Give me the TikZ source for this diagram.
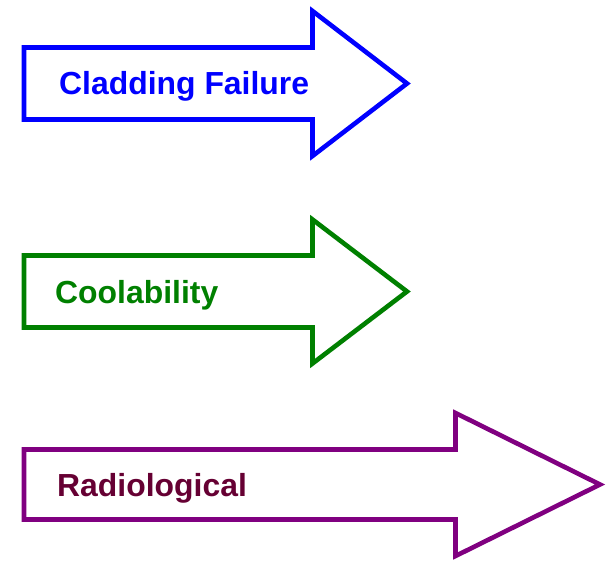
\documentclass[tikz,border=0pt]{standalone}
\usepackage{fontspec}
\setmainfont{Liberation Sans}
\definecolor{cblue}{HTML}{0000FF}
\definecolor{cgreen}{HTML}{008000}
\definecolor{cpurple}{HTML}{800080}
\definecolor{cmaroon}{HTML}{660033}
\tikzset{
  arrowshape/.style={line width=4.6pt, line join=miter, fill=white},
  label/.style={inner sep=0pt, anchor=base west, font=\fontsize{31.9}{36}\selectfont\bfseries}
}
\begin{document}
\begin{tikzpicture}[x=1pt,y=-1pt]
\useasboundingbox (0,0) rectangle (608,560);
% blue arrow
\draw[arrowshape, draw=cblue] (24,47.5) -- (312.5,47.5) -- (312.5,11) -- (407,83.5) -- (312.5,156) -- (312.5,119.5) -- (24,119.5) -- cycle;
\node[label, text=cblue] (t1) at (59,94) {Cladding Failure};
% green arrow
\draw[arrowshape, draw=cgreen] (24,255.5) -- (312.5,255.5) -- (312.5,219.5) -- (407,291.5) -- (312.5,363.5) -- (312.5,327.5) -- (24,327.5) -- cycle;
\node[label, text=cgreen] (t2) at (55,303) {Coolability};
% purple arrow
\draw[arrowshape, draw=cpurple] (24,449.5) -- (455.5,449.5) -- (455.5,413) -- (600,484.5) -- (455.5,556) -- (455.5,519.5) -- (24,519.5) -- cycle;
\node[label, text=cmaroon] (t3) at (57,496) {Radiological};
\end{tikzpicture}
\end{document}
